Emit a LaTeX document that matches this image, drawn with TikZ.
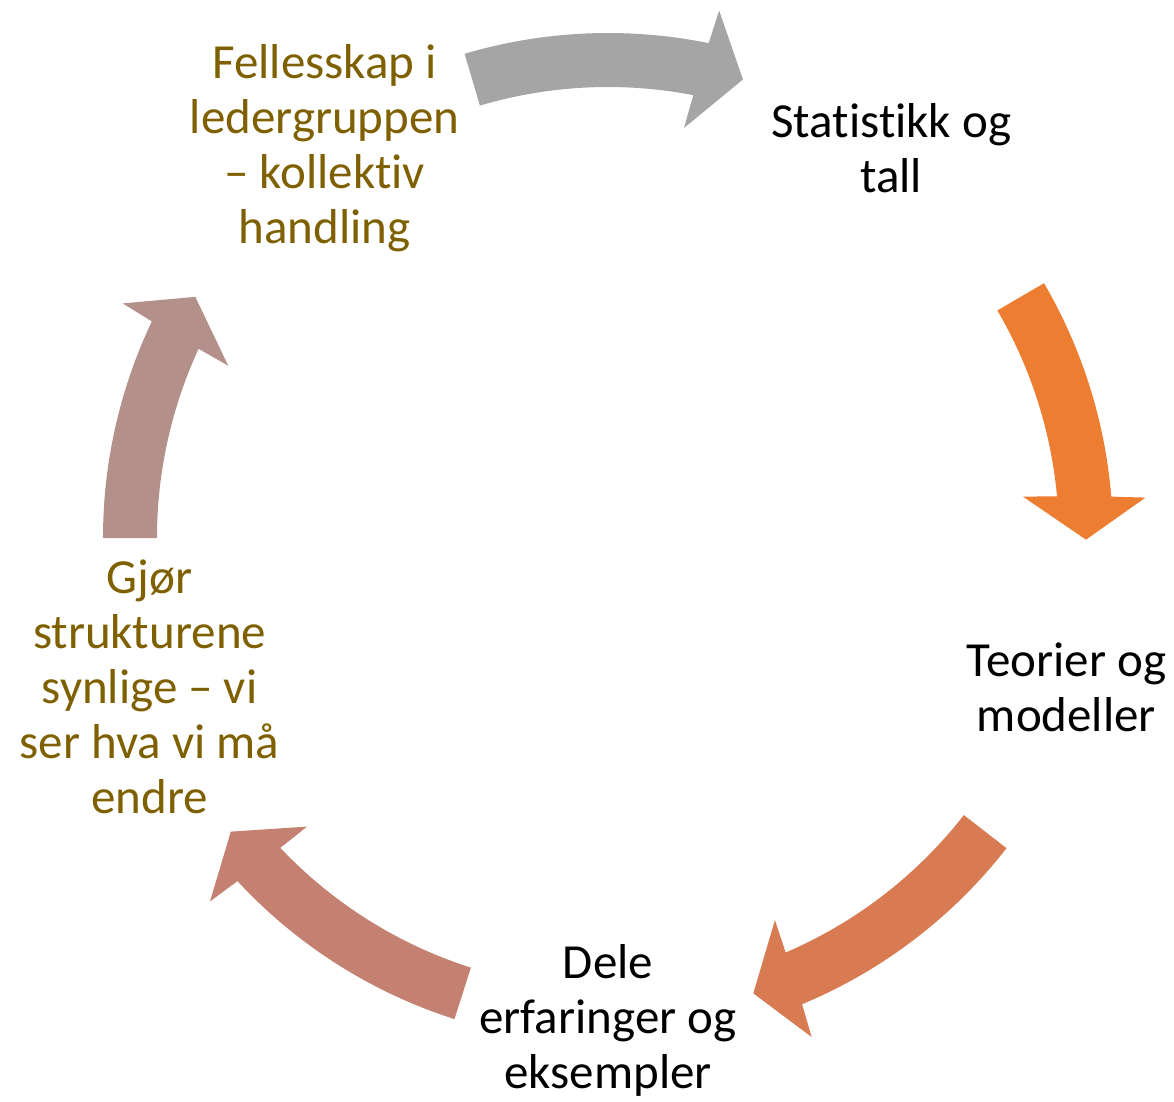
\documentclass[tikz,border=0pt]{standalone}
\usepackage{fontspec}
\setmainfont{Carlito}[Ligatures=NoCommon]
\usetikzlibrary{positioning}
\definecolor{goldtext}{HTML}{7F6000}
\definecolor{arrowgray}{HTML}{A5A5A5}
\definecolor{arroworange}{HTML}{ED7D31}
\definecolor{arrowrust}{HTML}{D87B52}
\definecolor{arrowsalmon}{HTML}{C48070}
\definecolor{arrowmauve}{HTML}{B4908A}
% block arrow on the ring: colour, tail angle, tip angle
\def\ringarrow[#1](#2:#3){\fill[#1] (#2:505pt) arc[start angle=#2, end angle=#3+4.9, radius=505pt]
  -- (#3+4.5:539pt) -- (#3:478pt) -- (#3+5.9:417pt) -- (#3+5.5:451pt)
  arc[start angle=#3+5.5, end angle=#2, radius=451pt] -- cycle;}
\tikzset{
  step label/.style={align=center, inner sep=0pt, font=\fontsize{49}{55}\selectfont},
}
\begin{document}
\begin{tikzpicture}
	%%%%% FRAME %%%%%
	\useasboundingbox (-608pt,-563pt) rectangle (566pt,538pt);
	\coordinate (centre) at (0,0);
	
	%%%%% TEXTS %%%%%
	\node[step label, text=goldtext] (felles) at (126:482pt) {Fellesskap i\\ledergruppen\\– kollektiv\\handling};
	\node[step label] (statistikk) at (54:482pt) {Statistikk og\\tall};
	\node[step label] (teorier) at (-18:482pt) {Teorier og\\modeller};
	\node[step label] (dele) at (-90:482pt) {Dele\\erfaringer og\\eksempler};
	\node[step label, text=goldtext] (gjor) at (198:482pt) {Gjør\\strukturene\\synlige – vi\\ser hva vi må\\endre};
	
	%%%%% ARROWS %%%%%
	\ringarrow[arrowgray](106.5:73.6)
	\ringarrow[arroworange](30.3:-0.2)
	\ringarrow[arrowrust](-37.9:-72.3)
	\ringarrow[arrowsalmon](-107.7:-142.1)
	\ringarrow[arrowmauve](180:149.7)
\end{tikzpicture}
\end{document}
